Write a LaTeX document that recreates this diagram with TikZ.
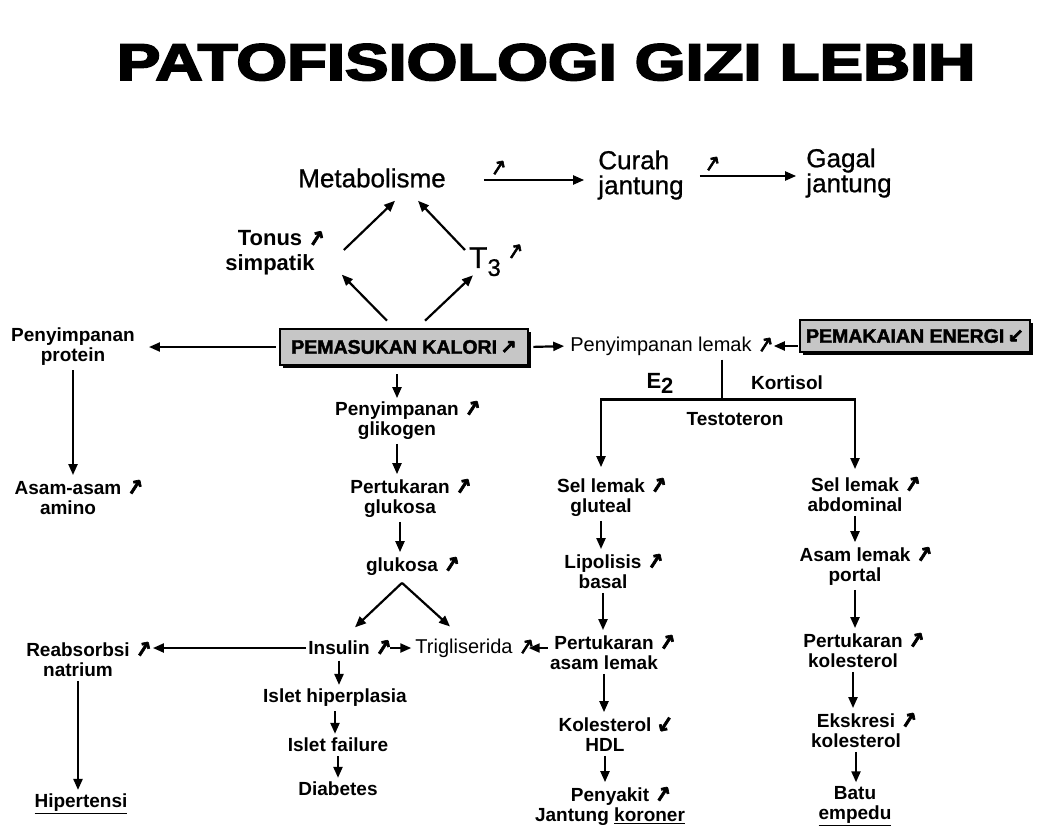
\documentclass[tikz,border=0pt]{standalone}
\usepackage{graphicx}
\usepackage{fontspec}
\setmainfont{Liberation Sans}[FakeBold=0.8]
\newfontfamily\heavyfont{Liberation Sans}[BoldFeatures={FakeBold=3.5}]
\newfontfamily\boxfont{Liberation Sans}[BoldFeatures={FakeBold=2}]
\newfontfamily\txtfont{Liberation Sans}
\newfontfamily\symfont{DejaVu Sans}[FakeBold=3]
\usetikzlibrary{arrows.meta,calc,shadows}
\newcommand\syma{{\symfont\fontsize{21}{21}\selectfont\rotatebox[origin=c]{12}{↗}}}
\newcommand\symd{{\symfont\fontsize{21}{21}\selectfont\rotatebox[origin=c]{12}{↙}}}
\newcommand\ua{\rlap{\hspace{0.2em}\syma}}
\newcommand\uad{\rlap{\hspace{0.2em}\symd}}
\begin{document}
\begin{tikzpicture}[x=1pt,y=-1pt,
  uptext/.style={font=\fontsize{26}{25}\selectfont, inner sep=2pt},
  lotext/.style={font=\txtfont\bfseries\fontsize{19}{20}\selectfont, align=center, inner sep=2pt},
  con/.style={line width=2.2pt, -{Triangle[length=11pt,width=9pt]}},
  vcon/.style={con, shorten <=2pt, shorten >=2pt},
  linkline/.style={line width=2.2pt},
  kbox/.style={draw, line width=2.6pt, fill=gray!45, inner sep=0pt,
    font=\boxfont\bfseries\fontsize{19.5}{20}\selectfont,
    drop shadow={shadow xshift=3pt, shadow yshift=-3pt, fill=black, opacity=1}},
]
\useasboundingbox[fill=white] (0,0) rectangle (1056,825);

% title
\node[anchor=base, inner sep=0pt] (title) at (546,80)
  {\resizebox{858pt}{36pt}{\heavyfont\bfseries PATOFISIOLOGI GIZI LEBIH}};

% upper part
\node[uptext] (metab) at (372,178) {Metabolisme};
\node[uptext, align=left] (curah) at (641,175) {Curah\\jantung};
\node[uptext, align=left] (gagal) at (849,173) {Gagal\\jantung};
\node[uptext, font=\txtfont\bfseries\fontsize{22}{25}\selectfont, align=center] (tonus) at (270,253) {Tonus\ua\\simpatik};
\node[font=\fontsize{30}{30}\selectfont, inner sep=2pt] (t3) at (485,260)
  {T\raisebox{-8pt}{\fontsize{24}{24}\selectfont 3}\rlap{\hspace{0.15em}\raisebox{10pt}{\syma}}};

% boxes
\node[kbox, minimum width=248pt, minimum height=36pt] (kalori) at (404,347) {PEMASUKAN KALORI\,{\symfont ↗}};
\node[kbox, minimum width=230pt, minimum height=32pt] (energi) at (915,336) {PEMAKAIAN ENERGI\,{\symfont ↙}};

% lower nodes
\node[lotext] (protein) at (73,347) {Penyimpanan\\protein};
\node[lotext] (amino) at (68,497) {Asam-asam\ua\\amino};
\node[lotext, font=\txtfont\fontsize{20}{20}\selectfont] (lemak) at (661,346) {Penyimpanan lemak\ua};
\node[lotext, font=\txtfont\bfseries\fontsize{22}{22}\selectfont] (e2) at (660,383) {E\raisebox{-5pt}{2}};
\node[lotext] (kort) at (787,383) {Kortisol};
\node[lotext] (testo) at (735,419) {Testoteron};
\node[lotext] (glut) at (601,497) {Sel lemak\ua\\gluteal};
\node[lotext] (abd) at (855,494) {Sel lemak\ua\\abdominal};
\node[lotext] (glik) at (397,420) {Penyimpanan\ua\\glikogen};
\node[lotext] (pglu) at (400,498) {Pertukaran\ua\\glukosa};
\node[lotext] (glu) at (402,566) {glukosa\ua};
\node[lotext] (ins) at (339,648) {Insulin\ua};
\node[lotext, font=\txtfont\fontsize{20}{20}\selectfont] (trig) at (464,648) {Trigliserida\ua};
\node[lotext] (reab) at (78,659) {Reabsorbsi\ua\\natrium};
\node[lotext] (hip) at (81,804) {\underline{Hipertensi}};
\node[lotext] (ish) at (335,698) {Islet hiperplasia};
\node[lotext] (isf) at (338,745) {Islet failure};
\node[lotext] (diab) at (338,789) {Diabetes};
\node[lotext] (lipo) at (603,571) {Lipolisis\ua\\basal};
\node[lotext] (pal) at (604,652) {Pertukaran\ua\\asam lemak};
\node[lotext] (hdl) at (605,734) {Kolesterol\uad\\HDL};
\node[lotext] (pjk) at (610,806) {Penyakit\ua\\Jantung \underline{koroner}};
\node[lotext] (alp) at (855,566) {Asam lemak\ua\\portal};
\node[lotext] (pkol) at (853,650) {Pertukaran\ua\\kolesterol};
\node[lotext] (eks) at (856,730) {Ekskresi\ua\\kolesterol};
\node[lotext] (batu) at (855,806) {Batu\\\underline{empedu}};

% upper connectors
\draw[con, shorten >=12pt] ($(metab.east)+(36,2)$) coordinate (m1)
  -- node[pos=0.13, above, inner sep=3pt] (lm1) {\syma} (curah.west |- m1);
\draw[con, shorten >=8pt] ($(curah.east)+(14,1)$) coordinate (c1)
  -- node[pos=0.12, above, inner sep=3pt] (lc1) {\syma} (gagal.west |- c1);
\draw[con] ($(tonus.east)+(27,-3)$) -- ($(metab.south)+(23,11)$);
\draw[con] ($(t3.west)+(-2,-10)$) -- ($(metab.south)+(46,11)$);
\draw[con] ($(kalori.north)+(-17,-7)$) -- ($(tonus.south east)+(25,-3)$);
\draw[con] ($(kalori.north)+(21,-7)$) -- ($(t3.south west)+(6,-3)$);

% kalori connectors
\draw[con, shorten <=3pt, shorten >=12pt] (kalori.west) -- (protein.east |- kalori.west);
\draw[con, shorten <=4pt, shorten >=4pt] (kalori.east) -- (lemak.west);
\draw[con, shorten <=1pt] (energi.west |- lemak.east) -- ($(lemak.east)+(20,0)$);
\draw[con, shorten <=8pt] (glik.north |- kalori.south) -- (glik.north);

% vertical chains
\foreach \a/\b in {protein/amino, reab/hip, glik/pglu, pglu/glu, ins/ish, ish/isf, isf/diab,
  glut/lipo, lipo/pal, pal/hdl, hdl/pjk, abd/alp, alp/pkol, pkol/eks, eks/batu}
  \draw[vcon] (\a.south) -- (\a.south |- \b.north);

% glukosa split
\draw[con] ($(glu.south)+(0,5)$) -- ($(ins.north)+(16,-10)$);
\draw[con] ($(glu.south)+(0,5)$) -- ($(trig.north)+(-14,-10)$);
\draw[con, shorten >=2pt] ($(ins.east)+(18,0)$) -- (trig.west);
\draw[con] (pal.west |- trig.east) -- ($(trig.east)+(14,0)$);
\draw[con] (ins.west) -- ($(reab.east |- ins.west)+(21,0)$);

% fat branching
\draw[linkline] ($(lemak.south)+(61,2)$) -- ++(0,40) coordinate (br);
\draw[con, shorten >=8pt] (br) -| (glut.north);
\draw[con, shorten >=5pt] (br) -| (abd.north);
\end{tikzpicture}
\end{document}
